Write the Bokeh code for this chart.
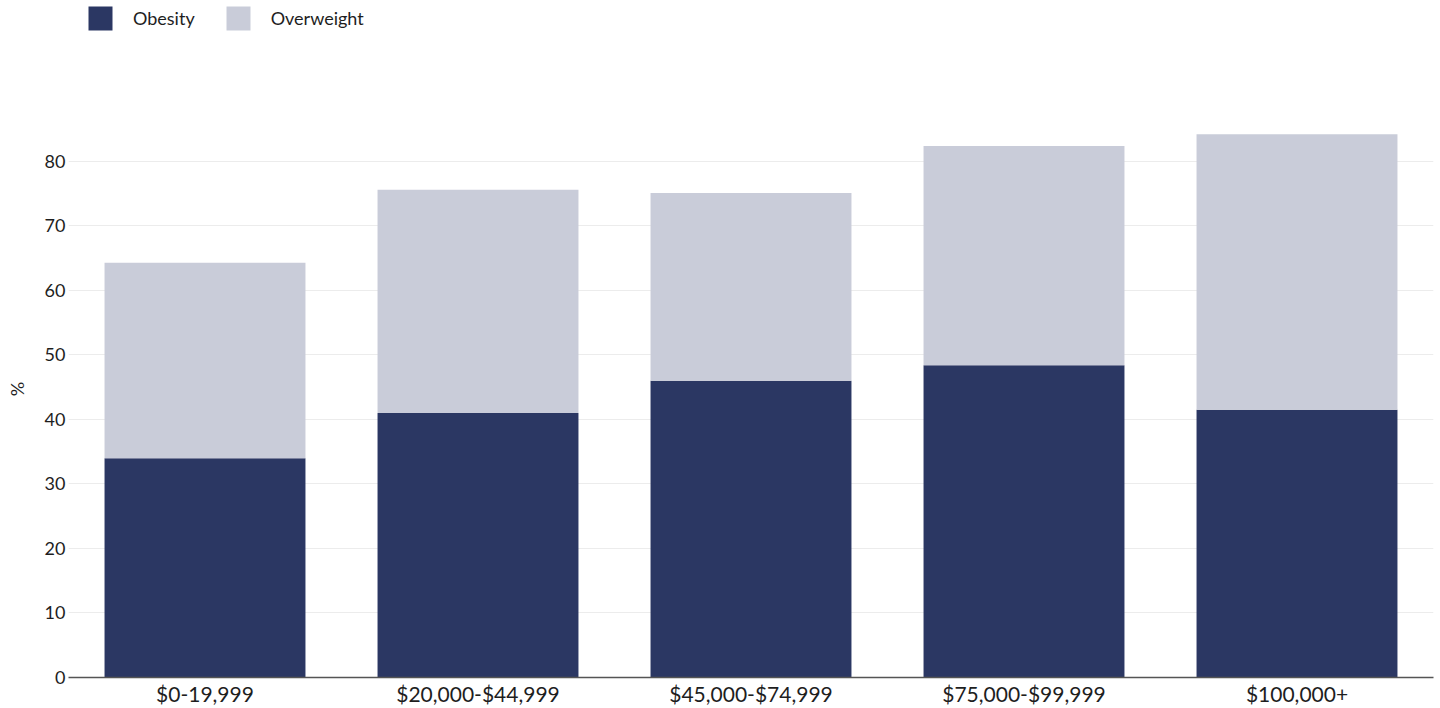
from bokeh.plotting import figure
from bokeh.layouts import column
from bokeh.models import ColumnDataSource, Legend, LegendItem, Range1d, FixedTicker
from bokeh.embed import file_html
from bokeh.resources import INLINE

categories = ["$0-19,999", "$20,000-$44,999", "$45,000-$74,999", "$75,000-$99,999", "$100,000+"]
obesity = [34.0, 41.0, 46.0, 48.4, 41.5]
total = [64.3, 75.6, 75.1, 82.4, 84.2]
overweight = [round(t - o, 1) for t, o in zip(total, obesity)]
series_names = ["Obesity", "Overweight"]
y_ticks = [0, 10, 20, 30, 40, 50, 60, 70, 80]

FONT = "Lato"
DARK = "#2b3763"
LIGHT = "#c9ccd9"
TXT = "#1e1e1e"
colors = [DARK, LIGHT]

W = 1440
H = 708
LEFT = 68
RIGHT = 7

# ---- legend strip ----
LEG_H = 33
lf = figure(width=W, height=LEG_H, x_range=Range1d(0, 1), y_range=Range1d(0, 1),
            x_axis_type=None, y_axis_type=None, output_backend="svg", toolbar_location=None,
            min_border_left=LEFT, min_border_right=RIGHT, min_border_top=0, min_border_bottom=0)
lf.outline_line_color = None
lf.grid.grid_line_color = None
dummies = [lf.quad(left=[0.5], right=[0.5], bottom=[0.5], top=[0.5], fill_color=c, line_color=None)
           for c in colors]
legend = Legend(items=[LegendItem(label=n, renderers=[r]) for n, r in zip(series_names, dummies)],
                orientation="horizontal", location=(17, 0),
                glyph_width=30, glyph_height=30, label_standoff=18, spacing=28,
                padding=0, margin=0, border_line_color=None, background_fill_alpha=0,
                label_text_font=FONT, label_text_font_size="18px", label_text_color=TXT,
                label_height=24)
lf.add_layout(legend, "center")

# ---- main chart ----
src = ColumnDataSource(dict(cat=categories, Obesity=obesity, Overweight=overweight))

p = figure(x_range=categories, y_range=Range1d(0, 89.44),
           width=W, height=H - LEG_H,
           output_backend="svg", toolbar_location=None,
           min_border_left=LEFT, min_border_right=RIGHT, min_border_top=100 - LEG_H,
           min_border_bottom=0)

p.vbar_stack(series_names, x="cat", width=0.736, source=src, color=colors, line_color=None)

p.outline_line_color = None
p.xgrid.grid_line_color = None
p.ygrid.grid_line_color = "#ececec"
p.ygrid.ticker = FixedTicker(ticks=y_ticks)
p.yaxis.ticker = FixedTicker(ticks=y_ticks)

for ax in (p.xaxis, p.yaxis):
    ax.major_tick_out = 0
    ax.major_tick_in = 0
    ax.minor_tick_out = 0
    ax.minor_tick_in = 0
    ax.major_tick_line_color = None
    ax.minor_tick_line_color = None
    ax.major_label_text_font = FONT
    ax.major_label_text_color = TXT

p.yaxis.axis_line_color = None
p.yaxis.major_label_standoff = 3
p.yaxis.major_label_text_font_size = "18px"
p.yaxis.axis_label = "%"
p.yaxis.axis_label_text_font = FONT
p.yaxis.axis_label_text_font_size = "18px"
p.yaxis.axis_label_text_font_style = "normal"
p.yaxis.axis_label_text_color = TXT
p.yaxis.axis_label_standoff = 14

p.xaxis.axis_label = None
p.xaxis.axis_line_color = "#555555"
p.xaxis.axis_line_width = 1.5
p.xaxis.major_label_standoff = 3
p.xaxis.major_label_text_font_size = "21px"

layout = column(lf, p, spacing=0)
open("out.html", "w").write(file_html(layout, INLINE))
